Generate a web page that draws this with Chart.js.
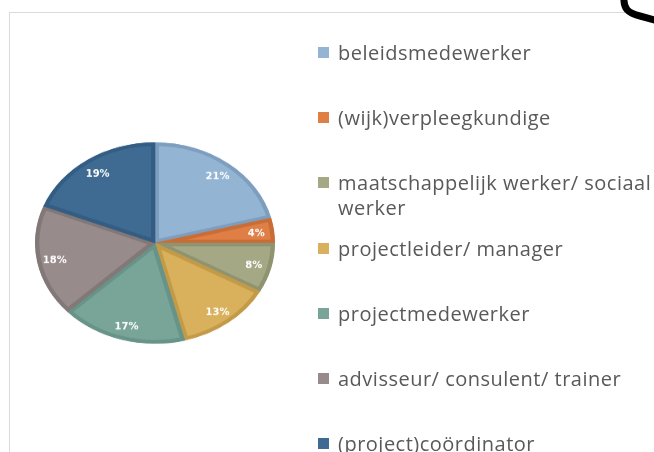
<!DOCTYPE html>
<html><head><meta charset="utf-8">
<script src="https://cdn.jsdelivr.net/npm/chart.js@4"></script>
<style>
html,body{margin:0;padding:0;background:#fff;}
#page{position:relative;width:654px;height:452px;overflow:hidden;background:#fff;}
#frame{position:absolute;left:9px;top:12px;width:620px;height:460px;border-top:1px solid #d9d9d9;border-left:1px solid #d9d9d9;}
#pieWrap{position:absolute;left:35px;top:123px;width:240px;height:240px;transform:scaleY(0.839);transform-origin:50% 50%;}
#legend{position:absolute;left:0;top:0;width:654px;height:452px;}
.item{position:absolute;left:318px;width:345px;display:flex;align-items:flex-start;}
.sw{width:11px;height:11px;margin-top:7px;margin-right:9px;flex:none;}
.txt{font-family:'Open Sans',sans-serif;font-size:20px;letter-spacing:0.5px;color:#595959;line-height:25px;white-space:normal;}
#deco{position:absolute;left:0;top:0;}
</style>
</head><body>
<div id="page">
  <div id="frame"></div>
  <svg id="deco" width="654" height="452"><path d="M 624 -4 C 623 9, 628 13, 640 16 L 662 22" stroke="#000" stroke-width="7" fill="none"/></svg>
  <div id="pieWrap"><canvas id="c" width="240" height="240"></canvas></div>
  <div id="legend"></div>
</div>
<script>
const categories = ['beleidsmedewerker','(wijk)verpleegkundige','maatschappelijk werker/ sociaal werker','projectleider/ manager','projectmedewerker','advisseur/ consulent/ trainer','(project)coördinator'];
const shares = [21,4,8,13,17,18,19];
const fillColors = ['#93b4d3','#df7f45','#a4a884','#d9b05b','#79a598','#978c8b','#3f6b93'];
const edgeColors = ['#7d9ebf','#c96d37','#8f9470','#c39b48','#679388','#827877','#345d84'];

const SQUASH = 0.839;
const pctLabels = {
  id:'pctLabels',
  afterDatasetsDraw(chart){
    const ctx = chart.ctx;
    const meta = chart.getDatasetMeta(0);
    const data = chart.data.datasets[0].data;
    const total = data.reduce((a,b)=>a+b,0);
    meta.data.forEach((arc,i)=>{
      const p = arc.getProps(['x','y','startAngle','endAngle','outerRadius'],true);
      const mid = (p.startAngle+p.endAngle)/2;
      const r = p.outerRadius*0.85;
      ctx.save();
      ctx.translate(p.x+Math.cos(mid)*r, p.y+Math.sin(mid)*r + 2);
      ctx.scale(1,1/SQUASH);
      ctx.font = 'bold 10px "DejaVu Sans"';
      ctx.fillStyle = '#ffffff';
      ctx.textAlign = 'center';
      ctx.textBaseline = 'middle';
      ctx.fillText(Math.round(data[i]/total*100)+'%',0,0);
      ctx.restore();
    });
  }
};

new Chart(document.getElementById('c'),{
  type:'pie',
  data:{labels:categories,datasets:[{data:shares,backgroundColor:fillColors,borderColor:edgeColors,borderWidth:4,borderAlign:'inner'}]},
  options:{responsive:false,animation:false,layout:{padding:0},
    plugins:{legend:{display:false},tooltip:{enabled:false}}},
  plugins:[pctLabels]
});

const legend = document.getElementById('legend');
categories.forEach((name,i)=>{
  const it = document.createElement('div');
  it.className='item';
  it.style.top = (40 + i*65.2)+'px';
  const sw = document.createElement('div'); sw.className='sw'; sw.style.background=fillColors[i];
  const tx = document.createElement('div'); tx.className='txt'; tx.textContent=name;
  it.appendChild(sw); it.appendChild(tx); legend.appendChild(it);
});
</script>
</body></html>
